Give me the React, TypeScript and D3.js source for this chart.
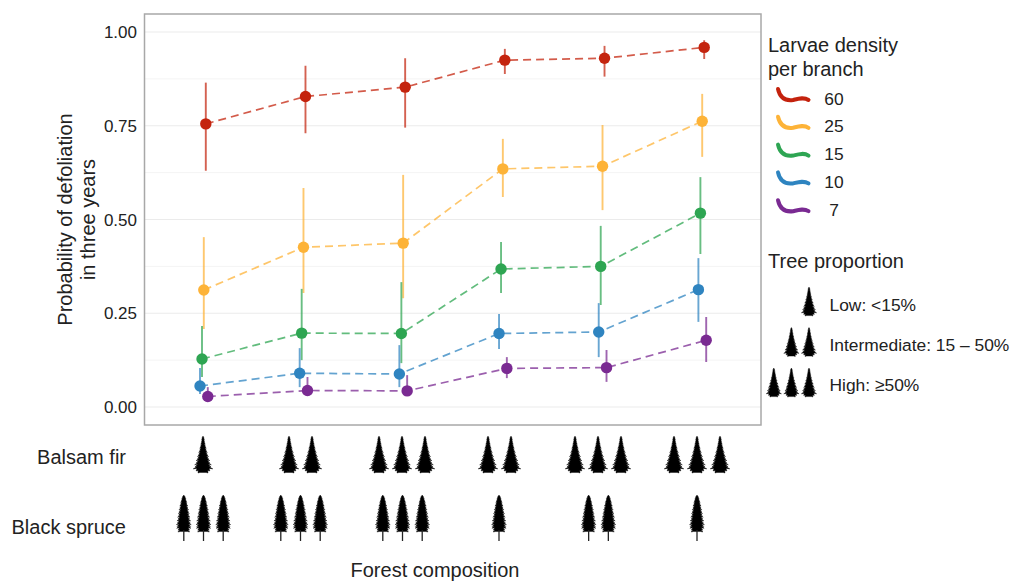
import React from "react";
import * as d3 from "d3";

const densities = ["60", "25", "15", "10", "7"];
const colors = ["#c4240e", "#fdb338", "#2ea552", "#2f84c0", "#7a2a92"];
const dodge = [2.2, 0.2, -1.6, -3.6, 4.2];
const compositions = [0, 1, 2, 3, 4, 5];

const mean60 = [0.755, 0.828, 0.853, 0.925, 0.93, 0.959];
const lo60 = [0.63, 0.73, 0.745, 0.888, 0.881, 0.928];
const hi60 = [0.865, 0.91, 0.93, 0.955, 0.963, 0.978];
const mean25 = [0.312, 0.426, 0.437, 0.635, 0.642, 0.762];
const lo25 = [0.208, 0.304, 0.29, 0.56, 0.525, 0.667];
const hi25 = [0.453, 0.584, 0.619, 0.715, 0.752, 0.835];
const mean15 = [0.128, 0.197, 0.196, 0.368, 0.375, 0.517];
const lo15 = [0.08, 0.125, 0.117, 0.304, 0.272, 0.408];
const hi15 = [0.216, 0.315, 0.333, 0.44, 0.483, 0.613];
const mean10 = [0.056, 0.09, 0.088, 0.196, 0.2, 0.313];
const lo10 = [0.035, 0.053, 0.053, 0.155, 0.133, 0.227];
const hi10 = [0.104, 0.157, 0.165, 0.248, 0.277, 0.397];
const mean7 = [0.028, 0.044, 0.043, 0.103, 0.105, 0.178];
const lo7 = [0.015, 0.03, 0.03, 0.077, 0.067, 0.12];
const hi7 = [0.053, 0.08, 0.085, 0.133, 0.152, 0.24];

const means = [mean60, mean25, mean15, mean10, mean7];
const los = [lo60, lo25, lo15, lo10, lo7];
const his = [hi60, hi25, hi15, hi10, hi7];

const yTicks = [0, 0.25, 0.5, 0.75, 1];
const yMinor = [0.125, 0.375, 0.625, 0.875];

const firCounts = [1, 2, 3, 2, 3, 3];
const spruceCounts = [3, 3, 3, 1, 2, 1];
const firCentres = [203, 300.5, 402, 499.5, 598, 697];
const spruceCentres = [203.5, 300.5, 402.5, 499, 598.5, 697];

const proportionLabels = ["Low: <15%", "Intermediate: 15 – 50%", "High: ≥50%"];

const FONT = '"Liberation Sans", Arial, sans-serif';
const TEXT = "#222";

const W = 1010, H = 581;
const panel = { l: 144.5, r: 761, t: 14, b: 425 };

const y = d3.scaleLinear().domain([0, 1]).range([407, 32]);
const x = d3.scaleLinear().domain([0, 5]).range([203.6, 702]);
const line = d3.line<[number, number]>().x((d) => d[0]).y((d) => d[1]);

// Feathered conifer outline; envelope gives half-width (0..1) at relative height t
function conifer(w: number, h: number, tiers: number, envelope: (t: number) => number) {
  const side: [number, number][] = [];
  for (let i = 1; i <= tiers; i++) {
    const t = i / tiers;
    const half = (envelope(t) * w) / 2;
    const tip = i % 2 === 0 ? 1 : 0.88;
    side.push([half * tip, t * h]);
    side.push([half * 0.62, (t - 0.25 / tiers) * h]);
  }
  const pts: [number, number][] = [
    [0, 0],
    ...side,
    ...side.slice().reverse().map(([a, b]) => [-a, b] as [number, number]),
  ];
  return "M" + pts.map((p) => p.map((v) => v.toFixed(2)).join(",")).join("L") + "Z";
}

const firEnvelope = (t: number) => (t < 0.9 ? 0.08 + 0.92 * Math.pow(t / 0.9, 1.35) : 1 - (t - 0.9) * 5);
const spruceEnvelope = (t: number) => (t < 0.85 ? Math.pow(t / 0.85, 0.62) : 1 - (t - 0.85) * 1.6);

const blur = "url(#soft)";

function Fir({ cx, top, h = 37, w = 20 }: { cx: number; top: number; h?: number; w?: number }) {
  return (
    <path
      transform={`translate(${cx},${top})`}
      d={conifer(w, h, 18, firEnvelope)}
      fill="#000"
      stroke="#000"
      strokeWidth={0.4}
      filter={blur}
    />
  );
}

function Spruce({ cx, top }: { cx: number; top: number }) {
  const crownH = 37;
  return (
    <g transform={`translate(${cx},${top})`} filter={blur}>
      <path d={conifer(15.5, crownH, 20, spruceEnvelope)} fill="#000" stroke="#000" strokeWidth={0.4} />
      <line x1={0} x2={0} y1={crownH - 2} y2={46} stroke="#222" strokeWidth={1.3} />
    </g>
  );
}

function spread(cx: number, n: number, gap: number) {
  return d3.range(n).map((i) => cx + (i - (n - 1) / 2) * gap);
}

function Worm({ yPos, color }: { yPos: number; color: string }) {
  const d = d3.path();
  d.moveTo(778, yPos);
  d.bezierCurveTo(780, yPos + 9, 785, yPos + 12, 793, yPos + 11);
  d.bezierCurveTo(799, yPos + 9.5, 804, yPos + 8, 808.5, yPos + 11);
  return <path d={d.toString()} fill="none" stroke={color} strokeWidth={4} strokeLinecap="round" filter={blur} />;
}

export default function App() {
  return (
    <svg
      width={W}
      height={H}
      style={{ position: "absolute", left: 0, top: 0, background: "#fff", fontFamily: FONT }}
    >
      <defs>
        <filter id="soft" x="-20%" y="-20%" width="140%" height="140%">
          <feGaussianBlur stdDeviation={0.45} />
        </filter>
      </defs>

      {yMinor.map((t) => (
        <line key={t} x1={panel.l} x2={panel.r} y1={y(t)} y2={y(t)} stroke="#f4f4f4" strokeWidth={1} />
      ))}
      {yTicks.map((t) => (
        <line key={t} x1={panel.l} x2={panel.r} y1={y(t)} y2={y(t)} stroke="#ebebeb" strokeWidth={1.2} />
      ))}

      {means.map((vals, s) => (
        <g key={s}>
          {compositions.map((c) => (
            <line
              key={c}
              x1={x(c) + dodge[s]}
              x2={x(c) + dodge[s]}
              y1={y(los[s][c])}
              y2={y(his[s][c])}
              stroke={colors[s]}
              strokeOpacity={0.72}
              strokeWidth={1.9}
            />
          ))}
          <path
            d={line(compositions.map((c) => [x(c) + dodge[s], y(vals[c])])) ?? ""}
            fill="none"
            stroke={colors[s]}
            strokeOpacity={0.75}
            strokeWidth={1.7}
            strokeDasharray="8 5"
          />
          {compositions.map((c) => (
            <circle key={c} cx={x(c) + dodge[s]} cy={y(vals[c])} r={5.7} fill={colors[s]} />
          ))}
        </g>
      ))}

      <rect
        x={panel.l}
        y={panel.t}
        width={panel.r - panel.l}
        height={panel.b - panel.t}
        fill="none"
        stroke="#a8a8a8"
        strokeWidth={1.5}
      />

      {yTicks.map((t) => (
        <text key={t} x={137} y={y(t) + 6} textAnchor="end" fontSize={17} fill={TEXT}>
          {t.toFixed(2)}
        </text>
      ))}

      <text transform="translate(72,219.5) rotate(-90)" textAnchor="middle" fontSize={20} fill={TEXT}>
        <tspan x={0} y={0}>Probability of defoliation</tspan>
        <tspan x={0} y={23}>in three years</tspan>
      </text>

      <text x={126} y={464} textAnchor="end" fontSize={20} fill={TEXT}>Balsam fir</text>
      <text x={126} y={534} textAnchor="end" fontSize={20} fill={TEXT}>Black spruce</text>
      <text x={435} y={577} textAnchor="middle" fontSize={20} fill={TEXT}>Forest composition</text>

      {firCounts.map((n, i) =>
        spread(firCentres[i], n, 23).map((cx, k) => <Fir key={`${i}-${k}`} cx={cx} top={436} />),
      )}
      {spruceCounts.map((n, i) =>
        spread(spruceCentres[i], n, 19.7).map((cx, k) => <Spruce key={`${i}-${k}`} cx={cx} top={495} />),
      )}

      <text fontSize={20} fill={TEXT}>
        <tspan x={768} y={52}>Larvae density</tspan>
        <tspan x={768} y={76}>per branch</tspan>
      </text>
      {densities.map((d, i) => (
        <g key={d}>
          <Worm yPos={89 + i * 27.8} color={colors[i]} />
          <text x={834} y={104.5 + i * 27.8} textAnchor="middle" fontSize={17.4} fill={TEXT}>
            {d}
          </text>
        </g>
      ))}

      <text x={768} y={268} fontSize={20} fill={TEXT}>Tree proportion</text>
      {proportionLabels.map((label, i) => (
        <g key={label}>
          {d3.range(i + 1).map((k) => (
            <Fir key={k} cx={809 - k * 17.6} top={287 + i * 40.5} h={29} w={15.5} />
          ))}
          <text x={829.5} y={311 + i * 40} fontSize={17.4} fill={TEXT}>
            {label}
          </text>
        </g>
      ))}
    </svg>
  );
}
